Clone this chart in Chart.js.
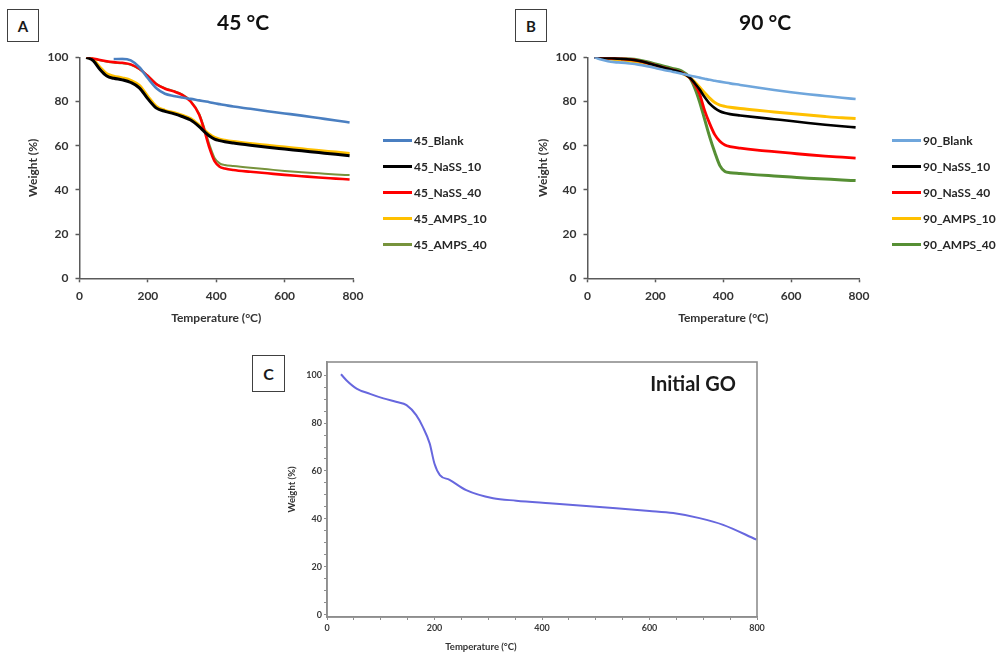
<!DOCTYPE html>
<html>
<head>
<meta charset="utf-8">
<title>TGA curves</title>
<script src="https://cdn.jsdelivr.net/npm/chart.js@4.4.0/dist/chart.umd.min.js"></script>
<style>
  body { margin: 0; background: #fff; width: 1004px; height: 654px; overflow: hidden; position: relative; font-family: Lato, 'Open Sans', sans-serif; }
  canvas { position: absolute; }
  .tag { position: absolute; box-sizing: border-box; border: 1.5px solid #404040; background: #fff;
         display: flex; align-items: center; justify-content: center; font: bold 15px Lato, sans-serif; color: #1a1a1a; }
  .legend { position: absolute; top: 0; }
  .legend .row { position: absolute; left: 0; height: 14px; display: flex; align-items: center; white-space: nowrap;
                 font: bold 12px Lato, sans-serif; color: #262626; }
  .legend .swatch { width: 29px; height: 3px; margin-right: 2px; }
  .label { position: absolute; transform: translate(-50%, -50%); white-space: nowrap; font-family: Lato, sans-serif; font-weight: bold; }
  .soft { filter: blur(0.6px); }
</style>
</head>
<body>
<div class="tag" style="left:7px;top:9px;width:32px;height:33px;">A</div>
<div class="tag" style="left:515px;top:9px;width:32px;height:33px;">B</div>
<div class="tag" style="left:252px;top:355px;width:33px;height:37px;font-size:16px;">C</div>

<canvas id="chartA" width="486" height="330" style="left:0;top:0;"></canvas>
<canvas id="chartB" width="470" height="330" style="left:530px;top:0;"></canvas>
<canvas id="chartC" class="soft" width="500" height="314" style="left:270px;top:340px;"></canvas>

<div id="legendA" class="legend" style="left:383px;"></div>
<div id="legendB" class="legend" style="left:892px;"></div>

<div class="label soft" style="left:693px;top:383px;font-size:20px;color:#1a1a1a;">Initial GO</div>
<div class="label soft" style="left:481px;top:646px;font-size:9.5px;color:#333;">Temperature (°C)</div>

<script>
// ---- axis ticks ----
const TEMP_TICKS = [0, 200, 400, 600, 800];
const WEIGHT_TICKS = [0, 20, 40, 60, 80, 100];

// ---- A: samples aged at 45 °C ----
const TEMP_A = [20, 40, 60, 80, 100, 125, 150, 175, 200, 225, 250, 275, 300, 325, 350, 365, 380, 395, 410, 425, 450, 500, 550, 600, 650, 700, 750, 790];
const A_BLANK  = [null, null, null, null, 99.2, 99.3, 98.6, 95.5, 90.5, 86, 83.5, 82.5, 81.8, 81.2, 80.5, 80.1, 79.7, 79.2, 78.8, 78.4, 77.7, 76.7, 75.6, 74.6, 73.6, 72.5, 71.4, 70.5];
const A_NASS10 = [100, 98.5, 94.5, 91.5, 90.5, 89.8, 88.6, 86.2, 81.2, 77, 75.5, 74.5, 73.2, 71.6, 68.6, 66.4, 64.4, 63, 62.3, 61.8, 61.2, 60.2, 59.3, 58.5, 57.7, 56.9, 56.1, 55.5];
const A_NASS40 = [100, 99.5, 98.8, 98.2, 97.8, 97.5, 96.8, 94.8, 91.5, 87.8, 85.8, 84.6, 83, 80, 74, 67, 59, 53, 50.5, 49.7, 49, 48.2, 47.5, 46.8, 46.2, 45.6, 45.1, 44.7];
const A_AMPS10 = [100, 99, 95.5, 92.5, 91.5, 90.7, 89.6, 87.3, 82.3, 77.8, 76, 75, 73.8, 72.3, 69.3, 67.2, 65.2, 63.8, 63, 62.5, 61.9, 61, 60.2, 59.4, 58.6, 57.8, 57.1, 56.5];
const A_AMPS40 = [100, 99.4, 98.6, 98, 97.6, 97.3, 96.6, 94.6, 91.6, 88, 86, 84.8, 83.2, 80.3, 74.5, 68, 60.5, 54.5, 52, 51.3, 50.8, 50, 49.3, 48.6, 48, 47.5, 47, 46.7];

// ---- B: samples aged at 90 °C ----
const TEMP_B = [20, 40, 60, 80, 100, 125, 150, 175, 200, 225, 250, 275, 300, 315, 330, 345, 360, 375, 390, 405, 420, 450, 500, 550, 600, 650, 700, 750, 790];
const B_BLANK  = [100, 99, 98.2, 97.8, 97.6, 97.2, 96.7, 96, 95.2, 94.3, 93.5, 92.7, 91.8, 91.3, 90.8, 90.3, 89.8, 89.4, 89, 88.6, 88.2, 87.5, 86.3, 85.2, 84.2, 83.3, 82.5, 81.7, 81.1];
const B_NASS10 = [100, 99.8, 99.6, 99.5, 99.3, 99, 98.4, 97.5, 96.4, 95.3, 94.3, 93.2, 91, 88.5, 85.5, 82, 79, 77, 75.6, 74.8, 74.3, 73.7, 72.8, 72, 71.2, 70.3, 69.5, 68.8, 68.3];
const B_NASS40 = [100, 99.8, 99.6, 99.5, 99.3, 99, 98.4, 97.5, 96.4, 95.3, 94.3, 93.2, 91, 88, 83.5, 76, 70, 65, 62, 60.3, 59.6, 58.9, 58, 57.3, 56.6, 55.9, 55.3, 54.8, 54.4];
const B_AMPS10 = [100, 99.6, 99.3, 99, 98.8, 98.3, 97.8, 97, 96, 95, 94, 93, 91, 89, 86.5, 84, 81.5, 79.5, 78.4, 77.8, 77.4, 76.8, 76, 75.3, 74.6, 73.9, 73.2, 72.6, 72.3];
const B_AMPS40 = [100, 99.8, 99.8, 99.7, 99.6, 99.3, 98.8, 98, 97, 96, 95, 94, 91, 86.5, 80, 72, 64, 57, 51, 48.3, 47.8, 47.4, 46.8, 46.3, 45.8, 45.3, 44.9, 44.5, 44.2];

// ---- C: initial graphene oxide ----
const TEMP_C = [26, 36, 55, 80, 105, 130, 148, 166, 178, 191, 200, 210, 228, 259, 309, 352, 414, 507, 600, 644, 693, 737, 799];
const C_GO   = [100.4, 97.9, 94.4, 92.2, 90.3, 88.8, 87.5, 83.3, 78.5, 71.5, 63, 58.3, 56.3, 52, 48.6, 47.6, 46.5, 44.9, 43.3, 42.4, 40.3, 37.5, 31.3];

const SERIES_A = [
  { label: '45_Blank',   values: A_BLANK,  color: '#4a7fc1', width: 2.6 },
  { label: '45_NaSS_10', values: A_NASS10, color: '#000000', width: 3 },
  { label: '45_NaSS_40', values: A_NASS40, color: '#ff0000', width: 2.6 },
  { label: '45_AMPS_10', values: A_AMPS10, color: '#ffc000', width: 3 },
  { label: '45_AMPS_40', values: A_AMPS40, color: '#77933c', width: 2 }
];
const SERIES_B = [
  { label: '90_Blank',   values: B_BLANK,  color: '#6fa6dc', width: 2.6 },
  { label: '90_NaSS_10', values: B_NASS10, color: '#000000', width: 2.6 },
  { label: '90_NaSS_40', values: B_NASS40, color: '#ff0000', width: 2.8 },
  { label: '90_AMPS_10', values: B_AMPS10, color: '#ffc000', width: 3 },
  { label: '90_AMPS_40', values: B_AMPS40, color: '#568f34', width: 3 }
];

const FONT = "Lato, 'Open Sans', sans-serif";
const AXIS_COLOR = '#5a5a5a';
const TEXT_COLOR = '#333333';

function toPoints(temps, values) {
  return temps.map((t, i) => ({ x: t, y: values[i] }));
}

function useTicks(list) {
  return function(scale) {
    scale.ticks = list.map(v => ({ value: v }));
  };
}

// major ticks plus the small marks between them
function withMinor(list, step) {
  const out = [];
  for (let v = list[0]; v <= list[list.length - 1]; v += step) out.push(v);
  return out;
}

function tgaDatasets(series, temps) {
  return series.map(s => ({
    label: s.label,
    data: toPoints(temps, s.values),
    borderColor: s.color,
    backgroundColor: s.color,
    borderWidth: s.width,
    pointRadius: 0,
    cubicInterpolationMode: 'monotone',
    fill: false
  }));
}

// A and B share the same Excel-like look.
// The empty right-hand axis keeps room for the legend without
// pulling the centred title off the canvas middle.
function tgaChart(id, title, series, temps, yWidth, yTitlePad, rightRoom) {
  const tickFont = { family: FONT, size: 12, weight: 'bold' };
  return new Chart(document.getElementById(id), {
    type: 'line',
    data: { datasets: tgaDatasets(series, temps) },
    options: {
      responsive: false,
      animation: false,
      devicePixelRatio: 1,
      layout: { padding: 0 },
      scales: {
        x: {
          type: 'linear', min: 0, max: 800,
          afterBuildTicks: useTicks(TEMP_TICKS),
          afterFit: s => { s.height = 51.7; },
          ticks: { color: TEXT_COLOR, font: tickFont, padding: 7, maxRotation: 0 },
          grid: { drawOnChartArea: false, tickLength: 4, color: AXIS_COLOR, tickWidth: 1.5 },
          border: { color: AXIS_COLOR, width: 1.5 },
          title: { display: true, text: 'Temperature (°C)', color: TEXT_COLOR, font: tickFont, padding: { top: 0, bottom: 4.8 } }
        },
        y: {
          type: 'linear', min: 0, max: 100,
          afterBuildTicks: useTicks(WEIGHT_TICKS),
          afterFit: s => { s.width = yWidth; },
          ticks: { color: TEXT_COLOR, font: tickFont, padding: 7 },
          grid: { drawOnChartArea: false, tickLength: 4, color: AXIS_COLOR, tickWidth: 1.5 },
          border: { color: AXIS_COLOR, width: 1.5 },
          title: { display: true, text: 'Weight (%)', color: TEXT_COLOR, font: tickFont, padding: { top: yTitlePad, bottom: 0 } }
        },
        room: {
          type: 'linear', position: 'right', min: 0, max: 1,
          afterFit: s => { s.width = rightRoom; },
          ticks: { display: false },
          grid: { display: false },
          border: { display: false }
        }
      },
      plugins: {
        legend: { display: false },
        tooltip: { enabled: false },
        title: {
          display: true, text: title, color: '#111',
          font: { family: FONT, size: 21, weight: 'bold' },
          padding: { top: 10.4, bottom: 21.7 }
        }
      }
    }
  });
}

// legend rows built from the same series lists
function buildLegend(id, series) {
  const box = document.getElementById(id);
  series.forEach((s, i) => {
    const row = document.createElement('div');
    row.className = 'row';
    row.style.top = (133 + i * 26.2) + 'px';
    const sw = document.createElement('span');
    sw.className = 'swatch';
    sw.style.background = s.color;
    row.appendChild(sw);
    row.appendChild(document.createTextNode(s.label));
    box.appendChild(row);
  });
}

// grey frame round the plot area of panel C
const frameBox = {
  id: 'frameBox',
  afterDraw(chart) {
    const { ctx, chartArea: a } = chart;
    ctx.save();
    ctx.strokeStyle = '#8e8e8e';
    ctx.lineWidth = 1.6;
    ctx.strokeRect(a.left, a.top, a.right - a.left, a.bottom - a.top);
    ctx.restore();
  }
};

function goChart() {
  const smallFont = { family: FONT, size: 9, weight: 'bold' };
  return new Chart(document.getElementById('chartC'), {
    type: 'line',
    data: {
      datasets: [{
        label: 'Initial GO',
        data: toPoints(TEMP_C, C_GO),
        borderColor: '#6767de',
        borderWidth: 2,
        pointRadius: 0,
        cubicInterpolationMode: 'monotone',
        fill: false
      }]
    },
    options: {
      responsive: false,
      animation: false,
      devicePixelRatio: 1,
      layout: { padding: { left: 0, right: 13, top: 22, bottom: 0 } },
      scales: {
        x: {
          type: 'linear', min: 0, max: 800,
          afterBuildTicks: useTicks(withMinor(TEMP_TICKS, 50)),
          afterFit: s => { s.height = 37; },
          ticks: {
            autoSkip: false, maxRotation: 0, color: '#3a3a3a', font: smallFont, padding: 3,
            callback: v => TEMP_TICKS.includes(v) ? v : ''
          },
          grid: { drawOnChartArea: false, tickLength: 3, color: '#8e8e8e' },
          border: { color: '#8e8e8e', width: 1.6 }
        },
        y: {
          type: 'linear', min: -1, max: 105.5,
          afterBuildTicks: useTicks(withMinor(WEIGHT_TICKS, 5)),
          afterFit: s => { s.width = 57; },
          ticks: {
            autoSkip: false, color: '#3a3a3a', font: smallFont, padding: 2,
            callback: v => WEIGHT_TICKS.includes(v) ? v : ''
          },
          grid: { drawOnChartArea: false, tickLength: 3, color: '#8e8e8e' },
          border: { color: '#8e8e8e', width: 1.6 },
          title: { display: true, text: 'Weight (%)', color: '#333', font: { family: FONT, size: 9.5, weight: 'bold' }, padding: { top: 16.3, bottom: 0 } }
        }
      },
      plugins: {
        legend: { display: false },
        tooltip: { enabled: false }
      }
    },
    plugins: [frameBox]
  });
}

tgaChart('chartA', '45 °C', SERIES_A, TEMP_A, 79.5, 25.8, 133);
tgaChart('chartB', '90 °C', SERIES_B, TEMP_B, 57.5, 5.8, 141);
goChart();
buildLegend('legendA', SERIES_A);
buildLegend('legendB', SERIES_B);
</script>
</body>
</html>
